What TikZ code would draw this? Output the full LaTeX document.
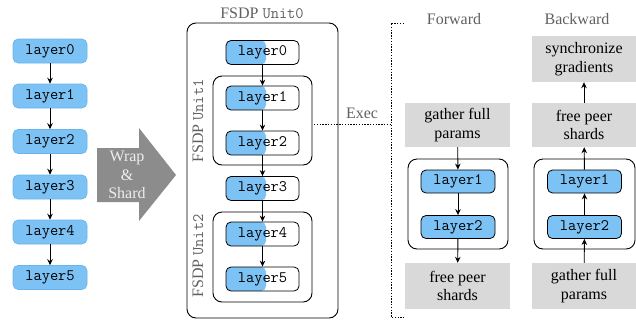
\documentclass[tikz,border=0pt]{standalone}
\usepackage{fontspec}
\setmainfont{Liberation Serif}
\usetikzlibrary{arrows.meta}
\definecolor{lblue}{HTML}{7CC2F5}
\definecolor{lbord}{HTML}{6AB4EC}
\definecolor{gbox}{HTML}{D9D9D9}
\definecolor{gtxt}{HTML}{606060}
\definecolor{warr}{HTML}{8C8C8C}
\definecolor{wtxt}{HTML}{EEEEEE}
\newcommand{\mymono}{\ttfamily\fontsize{16}{18}\selectfont}
\tikzset{
 every node/.style={inner sep=0pt},
 lay/.style={rounded corners=5pt, minimum width=74pt, minimum height=24pt, font=\mymono},
 bluelay/.style={lay, fill=lblue, draw=lbord, line width=0.6pt},
 fulllay/.style={lay, fill=lblue, draw=black, line width=0.8pt, minimum height=23pt},
 halflay/.style={lay, draw=black, line width=0.8pt, fill=white, minimum width=73pt,
   path picture={\fill[lblue, rounded corners=5pt] ([xshift=-6pt]path picture bounding box.south west) rectangle ([xshift=40pt]path picture bounding box.north west);}},
 unitbox/.style={draw=black, line width=0.9pt, rounded corners=9pt},
 gbx/.style={fill=gbox, font=\fontsize{16}{18.5}\selectfont, align=center},
 lbl/.style={text=gtxt, font=\fontsize{16}{18.5}\selectfont},
 arr/.style={-{Stealth[length=6pt,width=5.5pt]}, line width=0.9pt},
 dotln/.style={line width=1pt, dash pattern=on 1.4pt off 1.4pt},
}
\begin{document}
\begin{tikzpicture}[x=1pt,y=-1pt]
\useasboundingbox (0,0) rectangle (636,322);
% left column
\node[bluelay] (a0) at (50,51) {layer0};
\node[bluelay] (a1) at (50,96) {layer1};
\node[bluelay] (a2) at (50,141.5) {layer2};
\node[bluelay] (a3) at (50,187) {layer3};
\node[bluelay] (a4) at (50,232) {layer4};
\node[bluelay] (a5) at (50,277.5) {layer5};
\foreach \i/\j in {a0/a1,a1/a2,a2/a3,a3/a4,a4/a5} \draw[arr] (\i) -- (\j);
% wrap arrow
\fill[warr] (97,148) -- (139,148) -- (139,128) -- (176,175) -- (139,221) -- (139,202) -- (97,202) -- cycle;
\node[text=wtxt, align=center, font=\fontsize{16}{18.5}\selectfont] (wt) at (127,175) {Wrap\\\&\\Shard};
% middle
\node[lbl] (t0) at (262,13) {FSDP {\mymono Unit0}};
\node[unitbox, minimum width=151pt, minimum height=295pt] (u0) at (262.5,170.5) {};
\node[unitbox, minimum width=99pt, minimum height=89pt] (u1) at (262.5,120.5) {};
\node[unitbox, minimum width=99pt, minimum height=90pt] (u2) at (262.5,257) {};
\node[lbl, rotate=90] (t1) at (198,121) {FSDP {\mymono Unit1}};
\node[lbl, rotate=90] (t2) at (198,256) {FSDP {\mymono Unit2}};
\node[halflay] (m0) at (262.5,52.5) {layer0};
\node[halflay] (m1) at (262.5,98) {layer1};
\node[halflay] (m2) at (262.5,143) {layer2};
\node[halflay] (m3) at (262.5,188.5) {layer3};
\node[halflay] (m4) at (262.5,234) {layer4};
\node[halflay] (m5) at (262.5,279) {layer5};
\foreach \i/\j in {m0/m1,m1/m2,m2/m3,m3/m4,m4/m5} \draw[arr] (\i) -- (\j);
% exec bracket
\coordinate (e0) at (314,124);
\coordinate (e1) at (391,124);
\coordinate (bt) at (391,23);
\coordinate (bb) at (391,317);
\coordinate (bt2) at (404,23);
\coordinate (bb2) at (404,317);
\draw[dotln] (e0) -- (e1);
\draw[dotln] (bt2) -- (bt) -- (bb) -- (bb2);
\node[lbl] (ex) at (362,113) {Exec};
% forward
\node[lbl] (fw) at (454,19) {Forward};
\node[gbx, minimum width=105pt, minimum height=44pt] (fg) at (457.5,125) {gather full\\params};
\node[unitbox, minimum width=100pt, minimum height=90pt] (fc) at (458,204) {};
\node[fulllay] (f1) at (458,181.5) {layer1};
\node[fulllay] (f2) at (458,227) {layer2};
\node[gbx, minimum width=105pt, minimum height=46pt] (ff) at (457.5,286) {free peer\\shards};
\draw[arr] (fg) -- (f1);
\draw[arr] (f1) -- (f2);
\draw[arr] (f2) -- (ff);
% backward
\node[lbl] (bw) at (577,19) {Backward};
\node[gbx, minimum width=104pt, minimum height=46pt] (bs) at (584,59) {synchronize\\gradients};
\node[gbx, minimum width=104pt, minimum height=44pt] (bf) at (584,125) {free peer\\shards};
\node[unitbox, minimum width=101pt, minimum height=90pt] (bc) at (584.5,204) {};
\node[fulllay] (b1) at (584.5,181.5) {layer1};
\node[fulllay] (b2) at (584.5,227) {layer2};
\node[gbx, minimum width=104pt, minimum height=46pt] (bg) at (584,286) {gather full\\params};
\draw[arr] (bg) -- (b2);
\draw[arr] (b2) -- (b1);
\draw[arr] (b1) -- (bf);
\draw[arr] (bf) -- (bs);
\end{tikzpicture}
\end{document}
